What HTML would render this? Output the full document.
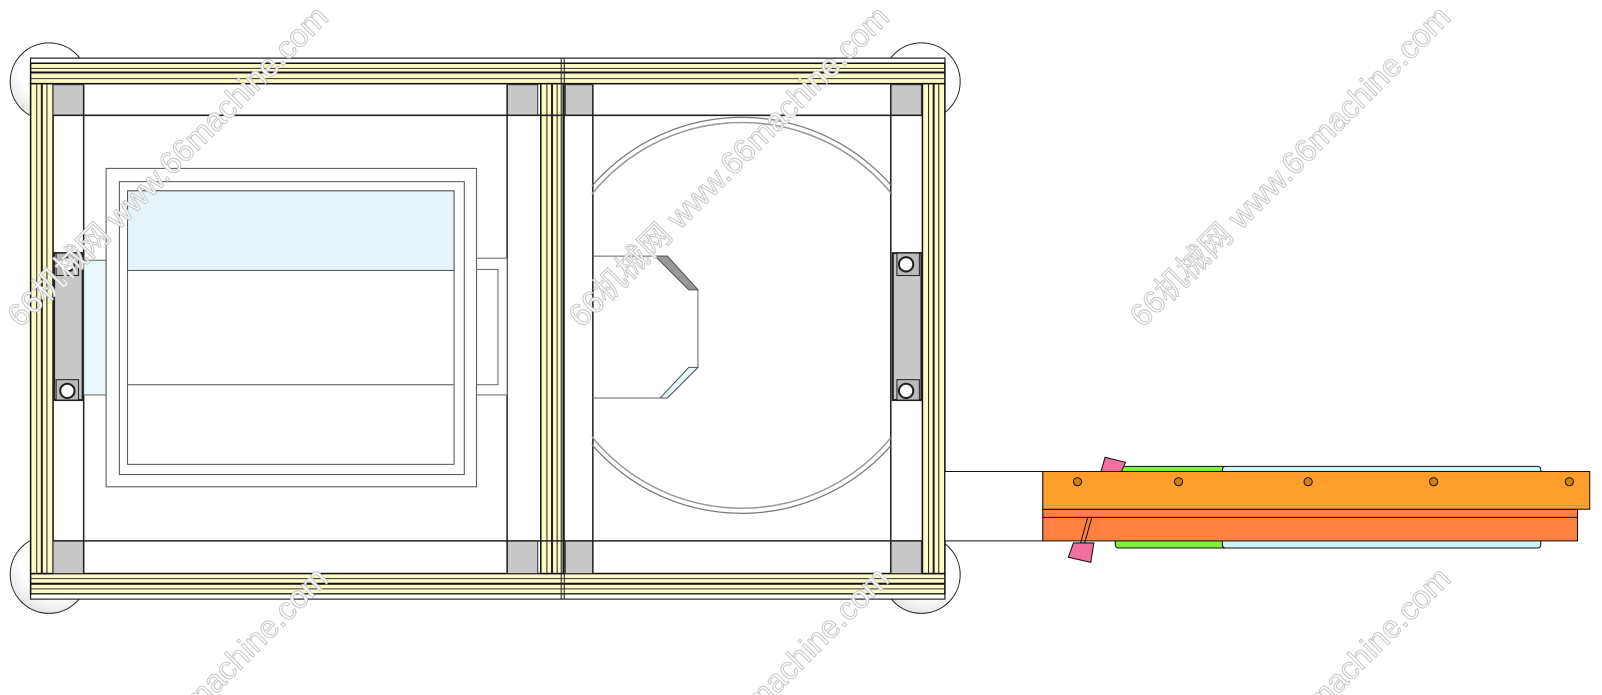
<!DOCTYPE html>
<html><head><meta charset="utf-8"><style>
html,body{margin:0;padding:0;background:#fff;width:1602px;height:695px;overflow:hidden;}
svg{display:block;overflow:hidden}
.wm{font-family:"Liberation Sans","Noto Sans CJK SC",sans-serif;font-size:31px;fill:#fff;stroke:#c8c8c8;stroke-width:1;}
</style></head><body>
<svg width="1602" height="695" viewBox="0 0 1570 681" preserveAspectRatio="none" xmlns="http://www.w3.org/2000/svg">
<defs>
<clipPath id="cl"><rect x="580" y="113" width="293" height="417"/></clipPath>
<clipPath id="pg"><rect x="0" y="0" width="1570" height="681"/></clipPath>
<radialGradient id="cg" cx="0.6" cy="0.3" r="0.8"><stop offset="0.6" stop-color="#fff"/><stop offset="1" stop-color="#ddd"/></radialGradient>
</defs>
<!-- casters -->
<g stroke="#222" stroke-width="1" fill="url(#cg)">
<circle cx="48" cy="80" r="38"/><circle cx="903" cy="80" r="38"/>
<circle cx="48" cy="563" r="38"/><circle cx="903" cy="563" r="38"/>
</g>
<rect x="30" y="57" width="896" height="530" fill="#fff" stroke="#111"/>
<rect x="30" y="57" width="896" height="5" fill="#fff" stroke="#111"/>
<rect x="30" y="62" width="896" height="20" fill="#fdfbc8" stroke="#111" stroke-width="1.5"/>
<line x1="30" y1="67" x2="926" y2="67" stroke="#333"/>
<line x1="30" y1="71" x2="926" y2="71" stroke="#111" stroke-width="2"/>
<line x1="30" y1="77" x2="926" y2="77" stroke="#333"/>
<rect x="30" y="562" width="896" height="20" fill="#fdfbc8" stroke="#111" stroke-width="1.5"/>
<line x1="30" y1="567" x2="926" y2="567" stroke="#333"/>
<line x1="30" y1="572" x2="926" y2="572" stroke="#111" stroke-width="2"/>
<line x1="30" y1="577" x2="926" y2="577" stroke="#333"/>
<rect x="30" y="582" width="896" height="5" fill="#fff" stroke="#111"/>
<g fill="#fdfbc8" stroke="#111" stroke-width="1.5">
<rect x="30" y="82" width="22" height="480"/>
<rect x="904" y="82" width="22" height="480"/>
<rect x="530" y="82" width="22" height="480"/>
</g>
<g stroke="#222">
<line x1="36" y1="82" x2="36" y2="562"/><line x1="41" y1="82" x2="41" y2="562" stroke-width="2"/><line x1="46" y1="82" x2="46" y2="562"/>
<line x1="910" y1="82" x2="910" y2="562"/><line x1="915" y1="82" x2="915" y2="562" stroke-width="2"/><line x1="920" y1="82" x2="920" y2="562"/>
<line x1="536" y1="82" x2="536" y2="562"/><line x1="541" y1="82" x2="541" y2="562" stroke-width="2"/><line x1="546" y1="82" x2="546" y2="562"/>
<line x1="550" y1="57" x2="550" y2="587"/><line x1="553" y1="57" x2="553" y2="587"/>
</g>
<g fill="#c8c8c8" stroke="#333">
<rect x="52" y="83" width="30" height="30"/><rect x="497" y="83" width="30" height="30"/>
<rect x="554" y="83" width="27" height="30"/><rect x="873" y="83" width="30" height="30"/>
<rect x="52" y="530" width="30" height="32"/><rect x="497" y="530" width="30" height="32"/>
<rect x="554" y="530" width="27" height="32"/><rect x="873" y="530" width="30" height="32"/>
</g>
<g stroke="#222" stroke-width="1.5" fill="none">
<line x1="52" y1="113" x2="904" y2="113"/><line x1="52" y1="530" x2="904" y2="530"/>
<line x1="82" y1="83" x2="82" y2="562"/><line x1="497" y1="83" x2="497" y2="562"/>
<line x1="581" y1="83" x2="581" y2="562"/><line x1="873" y1="83" x2="873" y2="562"/>
</g>
<rect x="82" y="255" width="22" height="132" fill="#eaf8fc" stroke="#666"/>
<rect x="467" y="253" width="30" height="134" fill="#fff" stroke="#666"/>
<rect x="467" y="264" width="21" height="113" fill="#fff" stroke="#666"/>
<rect x="104" y="165" width="363" height="312" fill="#fff" stroke="#555"/>
<rect x="117" y="178" width="338" height="287" fill="#fff" stroke="#555"/>
<rect x="125" y="187" width="320" height="268" fill="#fff" stroke="#555"/>
<rect x="125" y="187" width="320" height="78" fill="#e6f4fa" stroke="#555"/>
<line x1="125" y1="377" x2="445" y2="377" stroke="#555"/>
<g>
<rect x="53" y="248" width="28" height="144" fill="#c8c8c8" stroke="#222" stroke-width="2"/>
<rect x="55" y="248" width="22" height="22" fill="#bbb" stroke="#222"/>
<circle cx="66" cy="259" r="7" fill="#fff" stroke="#222" stroke-width="2"/>
<rect x="55" y="372" width="22" height="20" fill="#bbb" stroke="#222"/>
<circle cx="66" cy="383" r="7" fill="#fff" stroke="#222" stroke-width="2"/>
<rect x="875" y="248" width="28" height="144" fill="#c8c8c8" stroke="#222" stroke-width="2"/>
<rect x="879" y="248" width="22" height="22" fill="#bbb" stroke="#222"/>
<circle cx="888" cy="259" r="7" fill="#fff" stroke="#222" stroke-width="2"/>
<rect x="879" y="372" width="22" height="20" fill="#bbb" stroke="#222"/>
<circle cx="888" cy="383" r="7" fill="#fff" stroke="#222" stroke-width="2"/>
</g>
<g clip-path="url(#cl)" fill="none" stroke="#777">
<circle cx="727" cy="309" r="194" stroke-width="1.2"/>
<circle cx="727" cy="309" r="189" stroke="#999" stroke-width="1.5"/>
</g>
<polyline points="581,251 654,251 684,284 684,360 654,390 581,390" fill="none" stroke="#666"/>
<polygon points="642,251 654,251 684,284 675,284" fill="#999" stroke="#555"/>
<polygon points="647,390 654,390 684,360 675,360" fill="#e6f8fa" stroke="#555"/>
<rect x="926" y="462" width="96" height="68" fill="#fff" stroke="#111"/>
<rect x="1093" y="457" width="110" height="80" rx="3" fill="#80f040" stroke="#111"/>
<rect x="1198" y="457" width="312" height="80" rx="3" fill="#c8f8f8" stroke="#111"/>
<rect x="1022" y="499" width="524" height="31" fill="#ff8040" stroke="#111"/>
<line x1="1022" y1="507" x2="1546" y2="507" stroke="#111"/>
<rect x="1022" y="462" width="536" height="37" fill="#ff9e2a" stroke="#111"/>
<g fill="#d08010" stroke="#111">
<circle cx="1056" cy="472" r="4"/><circle cx="1155" cy="472" r="4"/><circle cx="1282" cy="472" r="4"/><circle cx="1405" cy="472" r="4"/><circle cx="1538" cy="472" r="4"/>
</g>
<polygon points="1083,448 1103,453 1099,462 1079,462" fill="#f070a0" stroke="#111"/>
<polygon points="1052,532 1072,532 1069,551 1047,546" fill="#f070a0" stroke="#111"/>
<polygon points="1066,507 1070,507 1063,532 1059,532" fill="none" stroke="#111"/>
<g class="wm" clip-path="url(#pg)">
<text transform="translate(20,322) rotate(-45)">66机械网 www.66machine.com</text>
<text transform="translate(570,322) rotate(-45)">66机械网 www.66machine.com</text>
<text transform="translate(1120,322) rotate(-45)">66机械网 www.66machine.com</text>
<text transform="translate(20,872) rotate(-45)">66机械网 www.66machine.com</text>
<text transform="translate(570,872) rotate(-45)">66机械网 www.66machine.com</text>
<text transform="translate(1120,872) rotate(-45)">66机械网 www.66machine.com</text>
</g>
</svg>
</body></html>
